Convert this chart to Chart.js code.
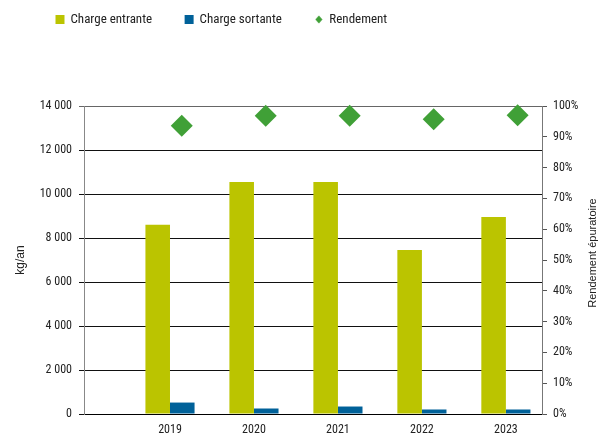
<!DOCTYPE html>
<html>
<head>
<meta charset="utf-8">
<script src="https://cdn.jsdelivr.net/npm/chart.js@4.4.0/dist/chart.umd.min.js"></script>
<style>
  html, body { margin: 0; padding: 0; background: #fff; }
  #wrap { width: 608px; height: 434px; }
</style>
</head>
<body>
<div id="wrap"><canvas id="myChart"></canvas></div>
<script>
var years = [2019, 2020, 2021, 2022, 2023];
var chargeEntrante = [8600, 10550, 10550, 7450, 8950];
var chargeSortante = [520, 250, 340, 205, 205];
var rendement = [93.6, 96.8, 96.8, 95.7, 97.0];
var kgTicks = [0, 2000, 4000, 6000, 8000, 10000, 12000, 14000];
var pctTicks = [0, 10, 20, 30, 40, 50, 60, 70, 80, 90, 100];

var narrow = "'Liberation Sans Narrow', 'Roboto Condensed', 'DejaVu Sans Condensed', sans-serif";
var regular = "'Liberation Sans', Arial, sans-serif";

// the diamonds sit a little right of the year in the original
var diamondShift = 0.14;

function spaced(v) {
    return String(v).replace(/\B(?=(\d{3})+(?!\d))/g, ' ');
}

// small diamond for the legend
var diamondIcon = document.createElement('canvas');
diamondIcon.width = 8;
diamondIcon.height = 9;
(function() {
    var c = diamondIcon.getContext('2d');
    c.fillStyle = '#40a037';
    c.beginPath();
    c.moveTo(4, 0.5);
    c.lineTo(7.5, 4.5);
    c.lineTo(4, 8.5);
    c.lineTo(0.5, 4.5);
    c.closePath();
    c.fill();
})();

var layoutTweaks = {
    id: 'layoutTweaks',
    afterInit: function(chart) {
        var lg = chart.legend;
        var fit = lg.fit;
        lg.fit = function() {
            fit.call(this);
            this.height = 106;
        };
    },
    afterLayout: function(chart) {
        chart.legend.left += 23;
        chart.legend.top -= 20;
    },
    afterDraw: function(chart) {
        var ctx = chart.ctx;
        var area = chart.chartArea;
        ctx.save();
        ctx.translate(chart.scales.y1.right - 15, (area.top + area.bottom) / 2 - 7);
        ctx.rotate(-Math.PI / 2);
        ctx.textAlign = 'center';
        ctx.textBaseline = 'middle';
        ctx.font = '11px ' + regular;
        ctx.fillStyle = '#222';
        ctx.fillText('Rendement épuratoire', 0, 0);
        ctx.restore();
    }
};

var ctx = document.getElementById('myChart');
var myChart = new Chart(ctx, {
    type: 'bar',
    data: {
        labels: years,
        datasets: [{
            label: 'Charge entrante',
            data: chargeEntrante,
            backgroundColor: '#bbc400',
            categoryPercentage: 0.585,
            barPercentage: 1.0
        }, {
            label: 'Charge sortante',
            data: chargeSortante,
            backgroundColor: '#006199',
            categoryPercentage: 0.585,
            barPercentage: 1.0
        }, {
            type: 'line',
            label: 'Rendement',
            data: years.map(function(y, i) {
                return { x: y + diamondShift, y: rendement[i] };
            }),
            yAxisID: 'y1',
            showLine: false,
            pointStyle: 'rectRot',
            pointRadius: 11,
            pointHoverRadius: 11,
            pointBackgroundColor: '#40a037',
            pointBorderColor: '#40a037',
            pointBorderWidth: 0,
            backgroundColor: '#40a037',
            borderColor: '#40a037',
            clip: false
        }]
    },
    options: {
        responsive: true,
        maintainAspectRatio: false,
        animation: false,
        layout: { padding: 0 },
        plugins: {
            tooltip: { enabled: false },
            legend: {
                position: 'top',
                align: 'start',
                labels: {
                    usePointStyle: true,
                    boxWidth: 8,
                    boxHeight: 9,
                    padding: 33,
                    color: '#222',
                    font: { family: narrow, size: 13 },
                    generateLabels: function(chart) {
                        var items = Chart.defaults.plugins.legend.labels.generateLabels(chart);
                        items.forEach(function(it) {
                            it.pointStyle = it.datasetIndex === 2 ? diamondIcon : 'rect';
                            it.lineWidth = 0;
                        });
                        return items;
                    }
                }
            }
        },
        scales: {
            x: {
                type: 'linear',
                offset: false,
                min: years[0] - 1.024,
                max: years[years.length - 1] + 0.43,
                afterBuildTicks: function(s) {
                    s.ticks = years.map(function(v) { return { value: v }; });
                },
                ticks: {
                    padding: 9,
                    color: '#222',
                    font: { family: narrow, size: 12 },
                    callback: function(v) { return String(v); }
                },
                grid: { display: true, drawOnChartArea: false, drawTicks: false },
                border: { color: '#000', width: 1 },
                afterFit: function(s) { s.height = 20; }
            },
            y: {
                position: 'left',
                min: kgTicks[0],
                max: kgTicks[kgTicks.length - 1],
                ticks: {
                    stepSize: kgTicks[1] - kgTicks[0],
                    padding: 7,
                    color: '#222',
                    font: { family: narrow, size: 12 },
                    callback: function(v) { return spaced(v); }
                },
                grid: {
                    color: function(c) {
                        return c.tick && c.tick.value === kgTicks[kgTicks.length - 1] ? '#666' : '#111';
                    },
                    tickLength: 5
                },
                border: { color: '#888' },
                title: {
                    display: true,
                    text: 'kg/an',
                    color: '#222',
                    font: { family: regular, size: 12 },
                    padding: { top: 13, bottom: 0 }
                },
                afterFit: function(s) { s.width = 84; }
            },
            y1: {
                position: 'right',
                min: pctTicks[0],
                max: pctTicks[pctTicks.length - 1],
                ticks: {
                    stepSize: pctTicks[1] - pctTicks[0],
                    padding: 6,
                    color: '#222',
                    font: { family: narrow, size: 12 },
                    callback: function(v) { return v + '%'; }
                },
                grid: { drawOnChartArea: false, tickLength: 5, color: '#555' },
                border: { color: '#777' },
                afterFit: function(s) { s.width = 66; }
            }
        }
    },
    plugins: [layoutTweaks]
});
</script>
</body>
</html>
